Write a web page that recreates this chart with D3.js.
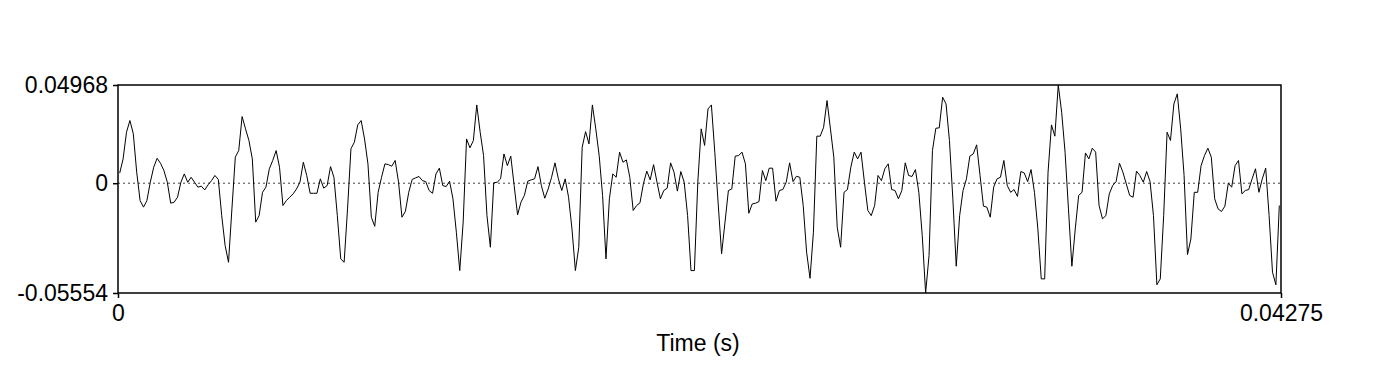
<!DOCTYPE html>
<html>
<head>
<meta charset="utf-8">
<script src="https://cdn.jsdelivr.net/npm/d3@7"></script>
<style>
  html, body { margin: 0; padding: 0; background: #fff; }
  svg { display: block; }
  text { font-family: "Liberation Sans", Arial, Helvetica, sans-serif; fill: #000; }
</style>
</head>
<body>
<svg id="chart" width="1400" height="378"></svg>
<script>
// ---- data ----
const sampleRate = 8000;            // Hz
const duration = 0.04275;           // s
const yMin = -0.05554;
const yMax = 0.04968;
const xTickValues = [0, 0.04275];
const xTickLabels = ["0", "0.04275"];
const yTickValues = [-0.05554, 0, 0.04968];
const yTickLabels = ["-0.05554", "0", "0.04968"];
const xAxisTitle = "Time (s)";
const amplitudes = [
  0.0051, 0.0123, 0.0258, 0.0317, 0.0250, 0.0056, -0.0088, -0.0121, -0.0088, 0.0005,
  0.0081, 0.0126, 0.0101, 0.0064, 0.0005, -0.0101, -0.0096, -0.0071, 0.0005, 0.0047,
  0.0005, 0.0030, 0.0005, -0.0020, -0.0015, -0.0034, -0.0008, 0.0013, 0.0039, 0.0019,
  -0.0164, -0.0315, -0.0400, -0.0130, 0.0132, 0.0165, 0.0337, 0.0275, 0.0216, 0.0123,
  -0.0197, -0.0164, -0.0046, -0.0020, 0.0073, 0.0115, 0.0165, 0.0081, -0.0113, -0.0088,
  -0.0071, -0.0054, -0.0029, 0.0005, 0.0106, 0.0039, -0.0051, -0.0051, -0.0051, 0.0022,
  -0.0025, -0.0012, 0.0084, 0.0030, -0.0164, -0.0383, -0.0400, -0.0130, 0.0174, 0.0207,
  0.0295, 0.0317, 0.0224, 0.0098, -0.0172, -0.0218, -0.0046, 0.0030, 0.0098, 0.0094,
  0.0086, 0.0115, 0.0005, -0.0172, -0.0143, -0.0046, 0.0019, 0.0027, 0.0034, 0.0013,
  0.0008, -0.0037, -0.0051, 0.0047, 0.0076, -0.0012, -0.0017, 0.0010, -0.0079, -0.0248,
  -0.0442, -0.0197, 0.0224, 0.0179, 0.0216, 0.0396, 0.0258, 0.0140, -0.0164, -0.0324,
  0.0002, 0.0005, 0.0022, 0.0148, 0.0089, 0.0137, -0.0012, -0.0160, -0.0096, -0.0062,
  0.0010, 0.0017, 0.0022, 0.0084, -0.0012, -0.0076, -0.0029, 0.0030, 0.0103, 0.0022,
  -0.0037, 0.0022, -0.0071, -0.0231, -0.0442, -0.0324, 0.0182, 0.0261, 0.0199, 0.0396,
  0.0275, 0.0140, -0.0062, -0.0383, -0.0079, 0.0047, 0.0030, 0.0157, 0.0106, 0.0118,
  0.0030, -0.0138, -0.0113, -0.0099, -0.0003, 0.0061, 0.0017, 0.0094, 0.0005, -0.0079,
  -0.0037, -0.0025, 0.0103, 0.0056, -0.0040, 0.0059, 0.0005, -0.0164, -0.0442, -0.0442,
  0.0005, 0.0275, 0.0191, 0.0376, 0.0396, 0.0157, -0.0105, -0.0357, -0.0197, -0.0037,
  -0.0029, 0.0137, 0.0140, 0.0157, 0.0098, -0.0152, -0.0105, -0.0101, -0.0093, 0.0064,
  0.0013, 0.0076, 0.0076, -0.0091, -0.0037, -0.0032, 0.0005, 0.0103, 0.0008, 0.0035,
  0.0030, -0.0113, -0.0349, -0.0481, -0.0248, 0.0238, 0.0238, 0.0283, 0.0418, 0.0275,
  0.0132, -0.0223, -0.0324, -0.0046, -0.0032, 0.0081, 0.0157, 0.0123, 0.0157, 0.0005,
  -0.0138, -0.0164, -0.0113, 0.0039, 0.0013, 0.0073, 0.0098, -0.0032, -0.0037, -0.0079,
  -0.0037, 0.0103, 0.0039, 0.0034, 0.0069, -0.0046, -0.0265, -0.05554, -0.0366, 0.0165,
  0.0278, 0.0280, 0.0435, 0.0401, 0.0216, -0.0079, -0.0420, -0.0164, -0.0037, 0.0022,
  0.0137, 0.0148, 0.0194, 0.0039, -0.0116, -0.0121, -0.0172, -0.0020, 0.0022, 0.0030,
  0.0115, -0.0012, -0.0046, -0.0032, -0.0067, 0.0059, 0.0052, 0.0008, 0.0069, -0.0046,
  -0.0231, -0.0484, -0.0484, 0.0056, 0.0295, 0.0238, 0.04968, 0.0359, 0.0157, -0.0130,
  -0.0420, -0.0231, -0.0062, -0.0046, 0.0153, 0.0123, 0.0177, 0.0157, -0.0113, -0.0180,
  -0.0164, -0.0054, -0.0012, 0.0008, 0.0101, 0.0056, -0.0003, -0.0062, -0.0071, 0.0061,
  0.0039, 0.0005, 0.0059, 0.0008, -0.0164, -0.0514, -0.0484, -0.0164, 0.0258, 0.0216,
  0.0401, 0.0452, 0.0275, 0.0039, -0.0361, -0.0282, -0.0046, -0.0046, 0.0089, 0.0140,
  0.0177, 0.0132, -0.0079, -0.0130, -0.0143, -0.0116, 0.0000, -0.0020, 0.0089, 0.0115,
  -0.0054, -0.0037, -0.0032, 0.0022, 0.0073, -0.0046, 0.0022, 0.0076, -0.0164, -0.0450,
  -0.0514, -0.0113
];

// ---- layout ----
const plot = { left: 118, right: 1281, top: 85, bottom: 293 };
const fontSize = 23;
const svg = d3.select("#chart");
svg.append("rect").attr("width", 1400).attr("height", 378).attr("fill", "#fff");

const x = d3.scaleLinear().domain([0, duration]).range([plot.left, plot.right]);
const y = d3.scaleLinear().domain([yMin, yMax]).range([plot.bottom, plot.top]);

// zero line (dotted)
svg.append("line")
  .attr("x1", x(0)).attr("x2", x(duration))
  .attr("y1", y(0)).attr("y2", y(0))
  .attr("stroke", "#444").attr("stroke-width", 1)
  .attr("stroke-dasharray", "2,3");

// waveform
const line = d3.line()
  .x((d, i) => x((i + 0.5) / sampleRate))
  .y(d => y(d));
svg.append("path")
  .datum(amplitudes)
  .attr("d", line)
  .attr("fill", "none")
  .attr("stroke", "#000")
  .attr("stroke-width", 1)
  .attr("stroke-linejoin", "miter");

// frame
svg.append("rect")
  .attr("x", plot.left).attr("y", plot.top)
  .attr("width", plot.right - plot.left).attr("height", plot.bottom - plot.top)
  .attr("fill", "none").attr("stroke", "#000").attr("stroke-width", 1.5);

// left axis
const yAxis = d3.axisLeft(y)
  .tickValues(yTickValues)
  .tickFormat((d, i) => yTickLabels[i])
  .tickSize(5).tickPadding(5);
const gy = svg.append("g").attr("transform", `translate(${plot.left},0)`).call(yAxis);
gy.select(".domain").remove();
gy.selectAll(".tick line").attr("stroke", "#000").attr("stroke-width", 1.5);
gy.selectAll(".tick text").attr("font-size", fontSize).attr("fill", "#000")
  .style("font-family", "'Liberation Sans', Arial, sans-serif");

// bottom axis
const xAxis = d3.axisBottom(x)
  .tickValues(xTickValues)
  .tickFormat((d, i) => xTickLabels[i])
  .tickSize(5).tickPadding(7);
const gx = svg.append("g").attr("transform", `translate(0,${plot.bottom})`).call(xAxis);
gx.select(".domain").remove();
gx.selectAll(".tick line").attr("stroke", "#000").attr("stroke-width", 1.5);
gx.selectAll(".tick text").attr("font-size", fontSize).attr("fill", "#000")
  .style("font-family", "'Liberation Sans', Arial, sans-serif");

// axis title
svg.append("text")
  .attr("x", 698)
  .attr("y", 351)
  .attr("text-anchor", "middle")
  .attr("font-size", fontSize)
  .text(xAxisTitle);
</script>
</body>
</html>
